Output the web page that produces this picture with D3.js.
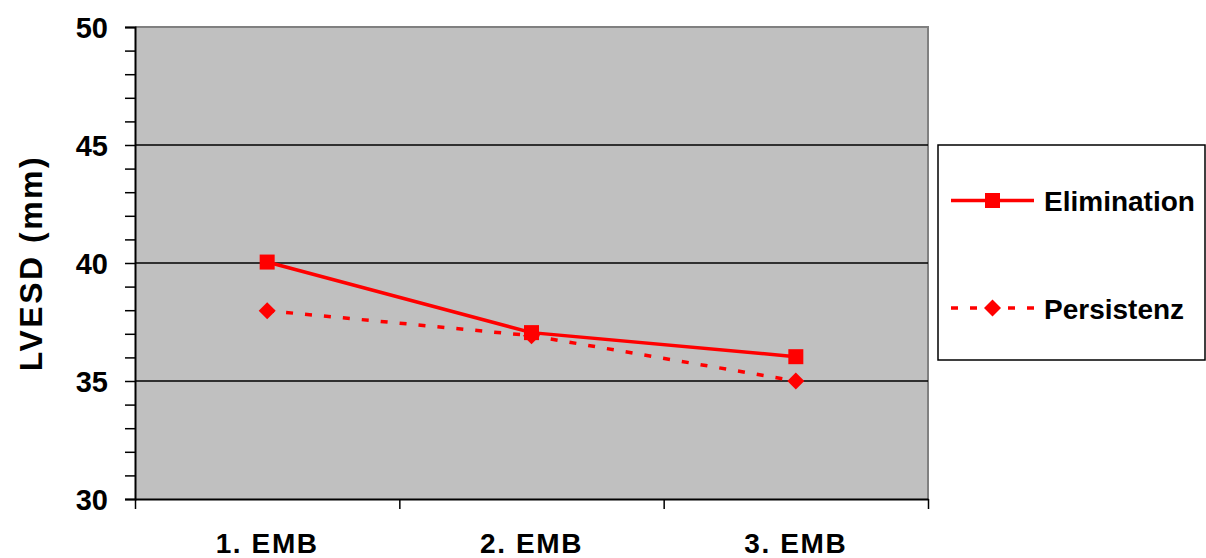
<!DOCTYPE html>
<html>
<head>
<meta charset="utf-8">
<script src="https://cdn.jsdelivr.net/npm/d3@7"></script>
<style>
  html, body { margin: 0; padding: 0; background: #fff; }
  svg text { font-family: "Liberation Sans", Arial, Helvetica, sans-serif; font-weight: bold; fill: #000; }
</style>
</head>
<body>
<svg id="chart" width="1206" height="558"></svg>
<script>
// Examinations (x categories)
const categories = ["1. EMB", "2. EMB", "3. EMB"];
// LVESD in mm per group
const elimination = [40.04, 37.05, 36.03];
const persistenz = [37.98, 36.92, 35.0];
// y axis
const yTicksMajor = [30, 35, 40, 45, 50];
const yTicksMinor = d3.range(30, 51, 1);
const series = [
  { name: "Elimination", values: elimination, marker: "square", dash: null },
  { name: "Persistenz", values: persistenz, marker: "diamond", dash: "7,12" }
];

const svg = d3.select("#chart");
const plot = { left: 135, right: 928, top: 27, bottom: 499 };
const red = "#ff0000";

const x = d3.scaleBand().domain(categories).range([plot.left, plot.right]).padding(0);
const y = d3.scaleLinear().domain([30, 50]).range([plot.bottom, plot.top]);

// plot background
svg.append("rect")
  .attr("x", plot.left).attr("y", plot.top)
  .attr("width", plot.right - plot.left).attr("height", plot.bottom - plot.top)
  .attr("fill", "#c0c0c0");

// top and right frame
svg.append("path")
  .attr("d", `M${plot.left},${plot.top}H${plot.right}V${plot.bottom}`)
  .attr("fill", "none").attr("stroke", "#808080").attr("stroke-width", 2);

// horizontal gridlines
svg.append("g").selectAll("line")
  .data(yTicksMajor.filter(v => v > 30 && v < 50))
  .join("line")
  .attr("x1", plot.left).attr("x2", plot.right)
  .attr("y1", d => y(d)).attr("y2", d => y(d))
  .attr("stroke", "#000").attr("stroke-width", 1.5);

// y axis: ticks every unit, labels every 5
const yAxis = d3.axisLeft(y).tickValues(yTicksMinor).tickSize(10).tickPadding(0)
  .tickFormat(d => yTicksMajor.includes(d) ? d : "");
const gy = svg.append("g").attr("transform", `translate(${plot.left},0)`).call(yAxis);
gy.attr("font-size", null).attr("font-family", null);
gy.select(".domain").attr("stroke", "#000").attr("stroke-width", 2);
gy.selectAll(".tick line").attr("stroke", "#000").attr("stroke-width", 1.5);
gy.selectAll(".tick text")
  .attr("x", -27).attr("dy", "0.36em")
  .style("font-size", "29px");

// x axis: ticks at category boundaries
const boundaries = categories.map(c => x(c)).concat([plot.right]);
const xb = d3.scaleLinear().domain([plot.left, plot.right]).range([plot.left, plot.right]);
const gx = svg.append("g").attr("transform", `translate(0,${plot.bottom})`)
  .call(d3.axisBottom(xb).tickValues(boundaries).tickSize(10).tickSizeOuter(0).tickFormat(""));
gx.select(".domain").attr("stroke", "#000").attr("stroke-width", 2);
gx.selectAll(".tick line").attr("stroke", "#000").attr("stroke-width", 1.5);

svg.append("g").selectAll("text")
  .data(categories)
  .join("text")
  .attr("x", d => x(d) + x.bandwidth() / 2)
  .attr("y", 553)
  .attr("text-anchor", "middle")
  .style("font-size", "28px")
  .style("letter-spacing", "1.6px")
  .text(d => d);

// y axis title
svg.append("text")
  .attr("transform", `translate(42,263) rotate(-90)`)
  .attr("text-anchor", "middle")
  .style("font-size", "32px")
  .style("letter-spacing", "2.5px")
  .text("LVESD (mm)");

// marker shapes
function drawMarker(g, type, cx, cy) {
  if (type === "square") {
    g.append("rect").attr("x", cx - 7.5).attr("y", cy - 7.5)
      .attr("width", 15).attr("height", 15).attr("fill", red);
  } else {
    const r = 8.5;
    g.append("path")
      .attr("d", `M${cx},${cy - r}L${cx + r},${cy}L${cx},${cy + r}L${cx - r},${cy}Z`)
      .attr("fill", red);
  }
}

const line = d3.line()
  .x((d, i) => x(categories[i]) + x.bandwidth() / 2)
  .y(d => y(d));

// series lines and markers (Persistenz drawn first, Elimination on top)
[...series].reverse().forEach(s => {
  const g = svg.append("g");
  g.append("path")
    .attr("d", line(s.values))
    .attr("fill", "none").attr("stroke", red).attr("stroke-width", 3.5)
    .attr("stroke-dasharray", s.dash);
  s.values.forEach((v, i) => drawMarker(g, s.marker, x(categories[i]) + x.bandwidth() / 2, y(v)));
});

// legend
const legend = svg.append("g");
legend.append("rect")
  .attr("x", 938).attr("y", 145).attr("width", 267).attr("height", 215)
  .attr("fill", "#fff").attr("stroke", "#000").attr("stroke-width", 1.5);
const legendRows = [200.5, 308];
series.forEach((s, i) => {
  const ly = legendRows[i];
  const g = legend.append("g");
  g.append("line")
    .attr("x1", 951).attr("x2", 1034).attr("y1", ly).attr("y2", ly)
    .attr("stroke", red).attr("stroke-width", 3.5)
    .attr("stroke-dasharray", s.dash);
  drawMarker(g, s.marker, 992.5, ly);
  g.append("text")
    .attr("x", 1044).attr("y", ly + 10.5)
    .style("font-size", "28px")
    .text(s.name);
});
</script>
</body>
</html>
